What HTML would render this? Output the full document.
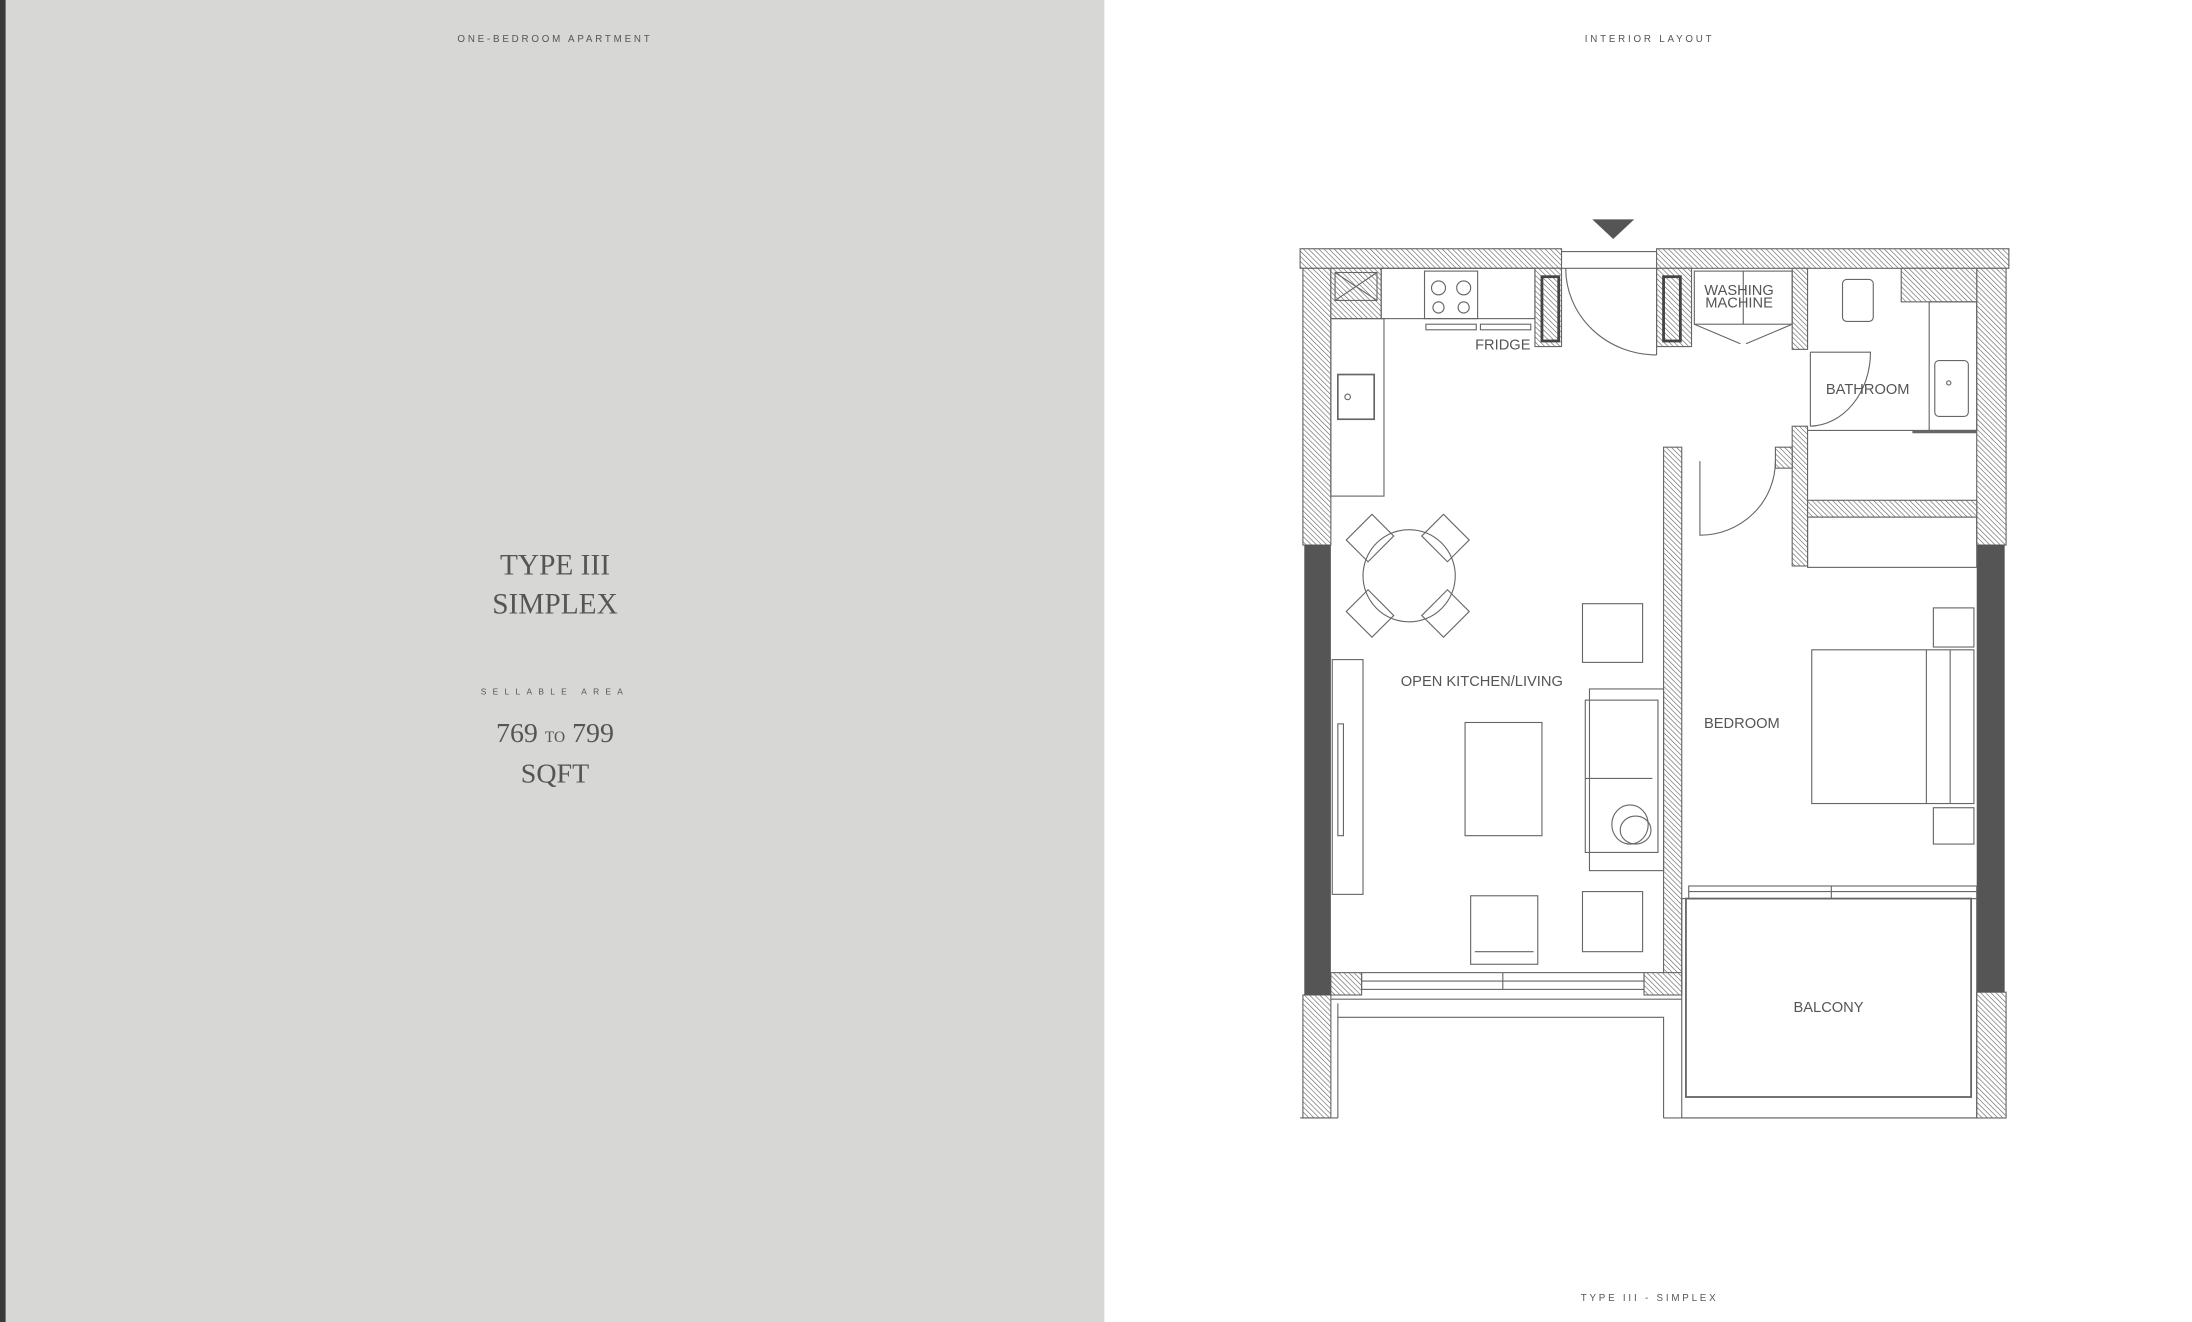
<!DOCTYPE html>
<html><head><meta charset="utf-8"><style>
html,body{margin:0;padding:0;width:2192px;height:1322px;overflow:hidden;background:#fff}
svg{display:block}
text{font-family:"Liberation Sans",sans-serif;fill:#555}
</style></head><body>
<svg width="2192" height="1322" viewBox="0 0 1568 946" preserveAspectRatio="none" xmlns="http://www.w3.org/2000/svg">
<defs>
<pattern id="h" width="2.6" height="2.6" patternUnits="userSpaceOnUse" patternTransform="rotate(-45)">
<rect width="2.6" height="2.6" fill="#fff"/><line x1="0" y1="0" x2="0" y2="2.6" stroke="#666" stroke-width="0.9"/>
</pattern>
</defs>
<rect x="0" y="0" width="1568" height="946" fill="#fff"/>
<rect x="0" y="0" width="790" height="946" fill="#d7d7d5"/>
<rect x="0" y="0" width="4" height="946" fill="#3a3a3a"/>
<text x="397" y="30" font-size="7" text-anchor="middle" letter-spacing="2" fill="#666">ONE-BEDROOM APARTMENT</text>
<text x="1180" y="30" font-size="7" text-anchor="middle" letter-spacing="2" fill="#666">INTERIOR LAYOUT</text>
<text x="1180" y="931" font-size="7" text-anchor="middle" letter-spacing="2" fill="#666">TYPE III  - SIMPLEX</text>
<text x="397" y="411" font-size="21" text-anchor="middle" style="font-family:'Liberation Serif',serif" fill="#555">TYPE III</text>
<text x="397" y="439" font-size="21" text-anchor="middle" style="font-family:'Liberation Serif',serif" fill="#555">SIMPLEX</text>
<text x="397" y="497" font-size="6" text-anchor="middle" letter-spacing="4.5" fill="#888">SELLABLE AREA</text>
<text x="397" y="531" font-size="20" text-anchor="middle" style="font-family:'Liberation Serif',serif" fill="#555">769 <tspan font-size="11">TO</tspan> 799</text>
<text x="397" y="560" font-size="20" text-anchor="middle" style="font-family:'Liberation Serif',serif" fill="#555">SQFT</text>

<polygon points="1139,157 1169,157 1154,171" fill="#555"/>
<g stroke="#666" stroke-width="0.8" fill="none">
<g fill="url(#h)">
<rect x="930" y="178" width="187" height="14"/>
<rect x="1185" y="178" width="252" height="14"/>
<rect x="932" y="192" width="20" height="198"/>
<rect x="932" y="712" width="20" height="88"/>
<rect x="1414" y="192" width="21" height="198"/>
<rect x="1414" y="710" width="21" height="90"/>
<rect x="952" y="192" width="36" height="36"/>
<rect x="1098" y="192" width="19" height="56"/>
<rect x="1185" y="192" width="25" height="56"/>
<rect x="1282" y="192" width="11" height="58"/>
<rect x="1282" y="305" width="11" height="100"/>
<rect x="1293" y="358" width="121" height="12"/>
<rect x="1360" y="192" width="54" height="24"/>
<rect x="1190" y="320" width="13" height="385"/>
<rect x="1270" y="320" width="12" height="15"/>
<rect x="952" y="696" width="22" height="16"/>
<rect x="1176" y="696" width="27" height="16"/>
</g>
<rect x="933" y="390" width="19" height="322" fill="#555" stroke="none"/>
<rect x="1414" y="390" width="20" height="320" fill="#555" stroke="none"/>
<line x1="1117" y1="180" x2="1185" y2="180"/><line x1="1117" y1="192" x2="1185" y2="192"/>
<path d="M1185 254 L1185 192 M1120 192 A65 62 0 0 0 1185 254"/>
<rect x="955" y="195" width="30" height="20"/><path d="M955 195 L985 215 M985 195 L955 215"/>
<rect x="988" y="192" width="110" height="36"/>
<rect x="952" y="228" width="38" height="127"/>
<rect x="957" y="268" width="26" height="32" stroke-width="1.2"/><circle cx="964" cy="284" r="2"/>
<rect x="1019" y="194" width="38" height="34"/>
<circle cx="1029" cy="206" r="5"/><circle cx="1047" cy="206" r="5"/><circle cx="1029" cy="220" r="4"/><circle cx="1047" cy="220" r="4"/>
<rect x="1020" y="232" width="36" height="4"/><rect x="1059" y="232" width="36" height="4"/>
<rect x="1103" y="198" width="12" height="46" stroke="#444" stroke-width="2"/>
<rect x="1190" y="198" width="12" height="46" stroke="#444" stroke-width="2"/>
<rect x="1212" y="194" width="70" height="38"/><line x1="1247" y1="194" x2="1247" y2="232"/>
<path d="M1212 232 L1245 246 M1282 232 L1249 246"/>
<rect x="1318" y="200" width="22" height="30" rx="3"/>
<rect x="1380" y="216" width="34" height="92"/>
<rect x="1384" y="258" width="24" height="40" rx="3"/><circle cx="1394" cy="274" r="1.5"/>
<line x1="1293" y1="308" x2="1414" y2="308"/><line x1="1368" y1="309" x2="1414" y2="309" stroke-width="2"/>
<path d="M1295 252 L1295 305 M1295 305 A44 53 0 0 0 1338 252 L1295 252"/>
<rect x="1293" y="370" width="121" height="36"/>
<path d="M1216 330 L1216 383 A54 53 0 0 0 1270 330"/>
<rect x="1296" y="465" width="116" height="110"/><line x1="1378" y1="465" x2="1378" y2="575"/><line x1="1395" y1="465" x2="1395" y2="575"/>
<rect x="1383" y="435" width="29" height="28"/><rect x="1383" y="578" width="29" height="26"/>
<rect x="1208" y="634" width="206" height="9"/><line x1="1208" y1="638" x2="1414" y2="638"/><line x1="1310" y1="634" x2="1310" y2="643"/>
<rect x="1203" y="643" width="211" height="157"/>
<rect x="1206" y="643" width="204" height="142" stroke-width="1.3"/>
<circle cx="1008" cy="412" r="33"/>
<g transform="translate(980,385) rotate(45)"><rect x="-11" y="-13" width="22" height="26"/></g>
<g transform="translate(1034,385) rotate(-45)"><rect x="-11" y="-13" width="22" height="26"/></g>
<g transform="translate(980,439) rotate(-45)"><rect x="-11" y="-13" width="22" height="26"/></g>
<g transform="translate(1034,439) rotate(45)"><rect x="-11" y="-13" width="22" height="26"/></g>
<rect x="1132" y="432" width="43" height="42"/><rect x="1132" y="638" width="43" height="43"/>
<rect x="1137" y="493" width="53" height="130"/><rect x="1134" y="501" width="52" height="109"/><line x1="1134" y1="557" x2="1182" y2="557"/>
<ellipse cx="1166" cy="590" rx="13" ry="14"/><ellipse cx="1170" cy="594" rx="11" ry="10"/>
<rect x="1048" y="517" width="55" height="81"/>
<rect x="953" y="472" width="22" height="168"/><rect x="957" y="518" width="4" height="80"/>
<rect x="1052" y="641" width="48" height="49"/><line x1="1055" y1="681" x2="1097" y2="681"/>
<rect x="974" y="696" width="202" height="12"/><line x1="974" y1="702" x2="1176" y2="702"/><line x1="1075" y1="696" x2="1075" y2="708"/>
<line x1="952" y1="715" x2="1203" y2="715"/>
<path d="M957 800 L957 718 M957 728 L1190 728 L1190 800 M1190 800 L1414 800"/>
<line x1="930" y1="800" x2="957" y2="800"/>
</g>
<g font-size="10.5" text-anchor="middle" fill="#666">
<text x="1075" y="250">FRIDGE</text>
<text x="1244" y="211">WASHING</text><text x="1244" y="220">MACHINE</text>
<text x="1336" y="282">BATHROOM</text>
<text x="1060" y="491">OPEN KITCHEN/LIVING</text>
<text x="1246" y="521">BEDROOM</text>
<text x="1308" y="724">BALCONY</text>
</g>
</svg>
</body></html>
